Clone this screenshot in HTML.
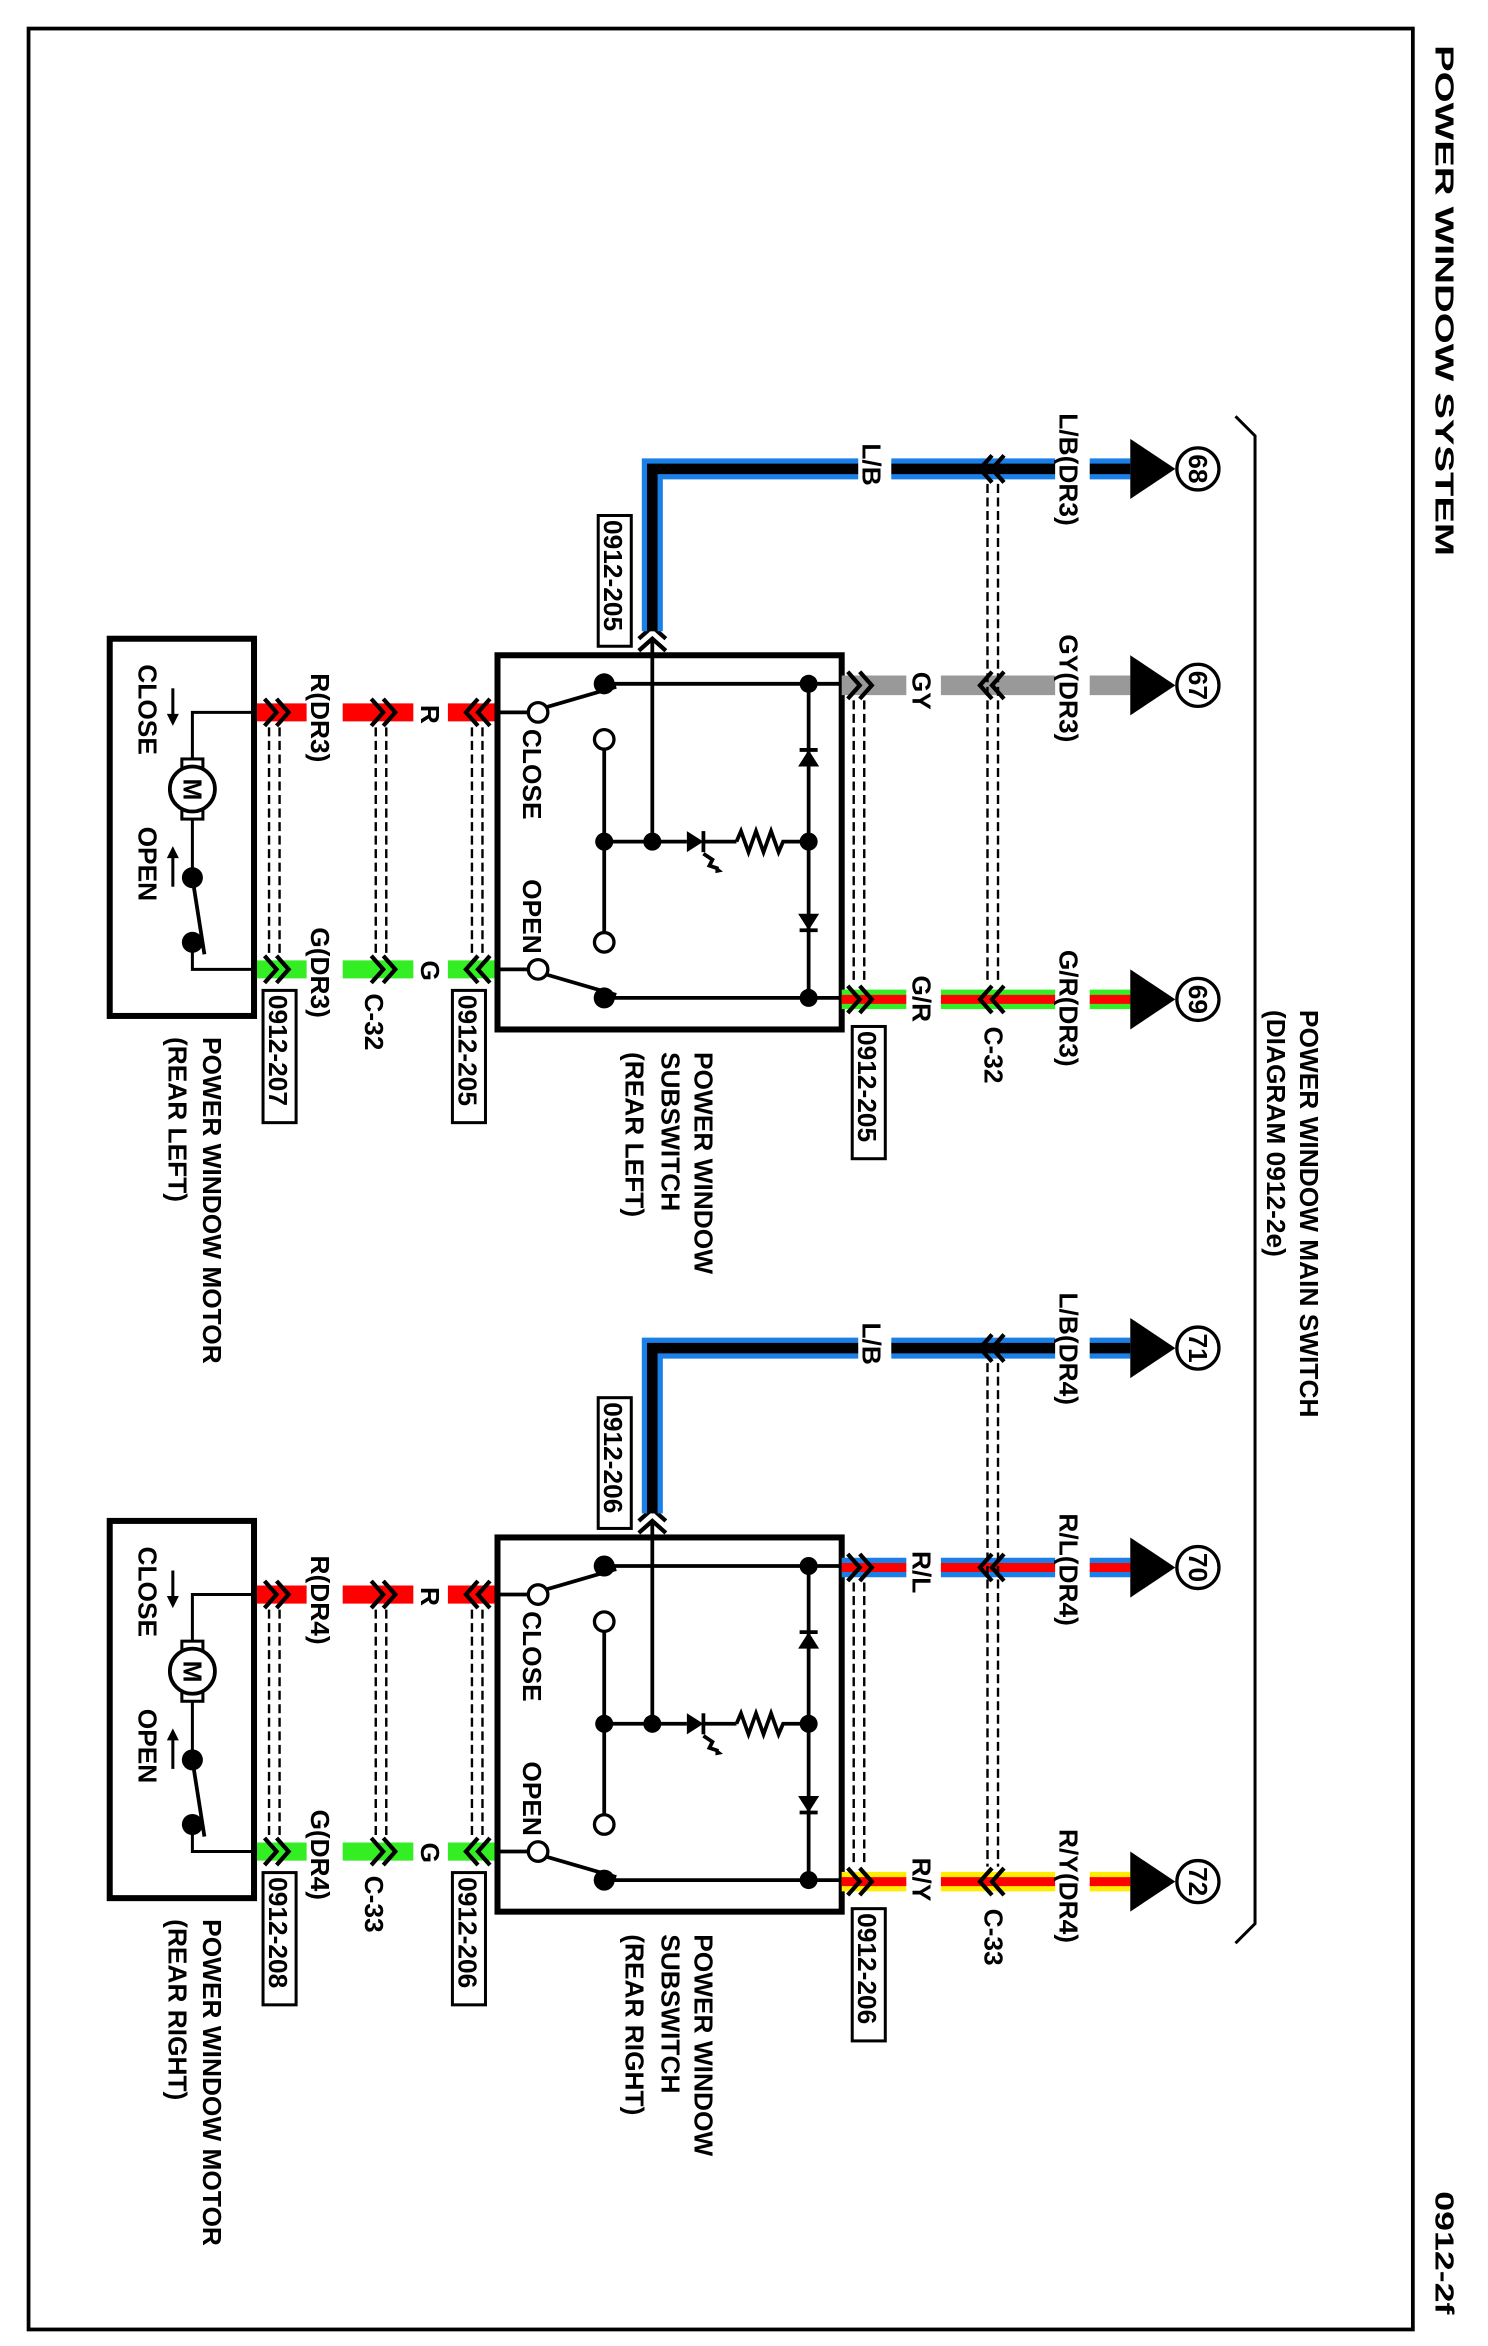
<!DOCTYPE html>
<html><head><meta charset="utf-8"><style>
html,body{margin:0;padding:0;background:#fff}
svg{display:block}
text{font-family:"Liberation Sans",Arial,sans-serif;font-size:17.5px;font-weight:bold;fill:#000}
</style></head><body>
<svg xmlns="http://www.w3.org/2000/svg" xmlns:xlink="http://www.w3.org/1999/xlink" width="1488" height="2346" viewBox="0 0 990 1561" preserveAspectRatio="none">
<rect x="0" y="0" width="990" height="1561" fill="#fff"/>
<rect x="19" y="19" width="921" height="1531" fill="none" stroke="#000" stroke-width="2.5"/>
<text font-size="28" font-weight="normal" textLength="340" lengthAdjust="spacingAndGlyphs" transform="translate(955,30) rotate(90)">POWER WINDOW SYSTEM</text>
<text font-size="28" font-weight="normal" textLength="82" lengthAdjust="spacingAndGlyphs" transform="translate(955,1458) rotate(90)">0912-2f</text>

<polyline points="822,277 835,290 835,1280 822,1293" fill="none" stroke="#000" stroke-width="2"/>
<text transform="translate(865,672) rotate(90)">POWER WINDOW MAIN SWITCH</text>
<text transform="translate(843,672) rotate(90)">(DIAGRAM 0912-2e)</text>

<defs>
<g id="chevR" fill="none" stroke="#000" stroke-width="2.8"><polyline points="-8,-9 0,0 -8,9"/><polyline points="0,-9 8,0 0,9"/></g>
<g id="chevL" fill="none" stroke="#000" stroke-width="2.8"><polyline points="8,-9 0,0 8,9"/><polyline points="0,-9 -8,0 0,9"/></g>
<g id="blk">
 <line x1="171" y1="474" x2="330" y2="474" stroke="#ff0000" stroke-width="12"/>
 <line x1="171" y1="645" x2="330" y2="645" stroke="#33ee22" stroke-width="12"/>
 <rect x="204" y="460" width="24" height="28" fill="#fff"/>
 <rect x="275" y="460" width="23" height="28" fill="#fff"/>
 <rect x="204" y="631" width="24" height="28" fill="#fff"/>
 <rect x="275" y="631" width="23" height="28" fill="#fff"/>
 <g stroke="#000" stroke-width="1.6" stroke-dasharray="6,3">
  <line x1="179" y1="484" x2="179" y2="636"/><line x1="186" y1="484" x2="186" y2="636"/>
  <line x1="250" y1="484" x2="250" y2="636"/><line x1="257" y1="484" x2="257" y2="636"/>
  <line x1="314" y1="484" x2="314" y2="636"/><line x1="321" y1="484" x2="321" y2="636"/>
 </g>
 <use xlink:href="#chevR" x="184" y="474"/><use xlink:href="#chevR" x="255" y="474"/><use xlink:href="#chevL" x="318" y="474"/>
 <use xlink:href="#chevR" x="184" y="645"/><use xlink:href="#chevR" x="255" y="645"/><use xlink:href="#chevL" x="318" y="645"/>
 <text transform="translate(280,469) rotate(90)">R</text>
 <text transform="translate(280,639) rotate(90)">G</text>
 <rect x="331" y="436" width="229" height="249" fill="none" stroke="#000" stroke-width="4"/>
 <g stroke="#000" stroke-width="2.5" fill="none">
  <line x1="331" y1="474" x2="352" y2="474"/>
  <line x1="331" y1="645" x2="352" y2="645"/>
  <line x1="362" y1="471" x2="410" y2="457"/>
  <line x1="362" y1="648" x2="410" y2="662"/>
  <line x1="402" y1="455" x2="560" y2="455"/>
  <line x1="402" y1="664" x2="560" y2="664"/>
  <line x1="402" y1="498" x2="402" y2="621"/>
  <line x1="402" y1="560" x2="457" y2="560"/>
  <line x1="468" y1="560" x2="490" y2="560"/>
  <polyline points="490,560 493,553 498,567 503,553 508,567 513,553 518,567 521,560 538,560"/>
  <line x1="434" y1="425" x2="434" y2="560"/>
  <line x1="538" y1="455" x2="538" y2="664"/>
  <line x1="468" y1="553" x2="468" y2="567"/>
  <line x1="532" y1="499" x2="544" y2="499"/>
  <line x1="532" y1="619" x2="544" y2="619"/>
  <polyline points="468,568 474,572 472,576 478,578"/>
 </g>
 <polygon points="457,553 457,567 468,560" fill="#000"/>
 <polygon points="476,576 481,580 476,581" fill="#000"/>
 <polygon points="531,510 545,510 538,499" fill="#000"/>
 <polygon points="531,608 545,608 538,619" fill="#000"/>
 <g fill="#000"><circle cx="402" cy="455" r="7"/><circle cx="402" cy="664" r="7"/><circle cx="402" cy="560" r="6"/><circle cx="434" cy="560" r="6"/><circle cx="538" cy="560" r="6"/><circle cx="538" cy="455" r="6"/><circle cx="538" cy="664" r="6"/></g>
 <g fill="#fff" stroke="#000" stroke-width="2.2"><circle cx="358" cy="474" r="6.5"/><circle cx="358" cy="645" r="6.5"/><circle cx="402" cy="492" r="6.5"/><circle cx="402" cy="627" r="6.5"/></g>
 <text transform="translate(348,485) rotate(90)">CLOSE</text>
 <text transform="translate(348,585) rotate(90)">OPEN</text>
 <rect x="73" y="425" width="96" height="251" fill="none" stroke="#000" stroke-width="4"/>
 <g stroke="#000" stroke-width="2" fill="none">
  <polyline points="169,474 128,474 128,505"/>
  <polyline points="128,545 128,584"/>
  <polyline points="128,627 128,645 169,645"/>
  <line x1="128" y1="584" x2="136" y2="635" stroke-width="2.5"/>
  <rect x="121" y="505" width="14" height="6" fill="#fff"/>
  <rect x="121" y="539" width="14" height="6" fill="#fff"/>
  <circle cx="128" cy="525" r="15" fill="#fff" stroke-width="2.5"/>
  <line x1="115" y1="458" x2="115" y2="476"/>
  <line x1="115" y1="570" x2="115" y2="590"/>
 </g>
 <polygon points="111,475 119,475 115,483" fill="#000"/>
 <polygon points="111,571 119,571 115,563" fill="#000"/>
 <circle cx="128" cy="584" r="7" fill="#000"/><circle cx="128" cy="627" r="7" fill="#000"/>
 <text font-size="19" transform="translate(122,518) rotate(90)">M</text>
 <text transform="translate(92,442) rotate(90)">CLOSE</text>
 <text transform="translate(92,550) rotate(90)">OPEN</text>
 <use xlink:href="#chevL" transform="translate(434,425) rotate(90)"/>
</g>
</defs>

<use xlink:href="#blk"/>
<use xlink:href="#blk" y="587"/>

<polyline points="752,312 434,312 434,420" fill="none" stroke="#1a7fe6" stroke-width="14"/>
<polyline points="752,312 434,312 434,420" fill="none" stroke="#000" stroke-width="7"/>
<line x1="560" y1="456" x2="752" y2="456" stroke="#999" stroke-width="13"/>
<line x1="560" y1="665" x2="752" y2="665" stroke="#33ee22" stroke-width="13"/>
<line x1="560" y1="665" x2="752" y2="665" stroke="#ff0000" stroke-width="6"/>
<g fill="#fff">
 <rect x="702" y="298" width="23" height="28"/><rect x="571" y="298" width="22" height="28"/>
 <rect x="702" y="442" width="23" height="28"/><rect x="603" y="442" width="23" height="28"/>
 <rect x="702" y="651" width="23" height="28"/><rect x="603" y="651" width="23" height="28"/>
</g>
<g stroke="#000" stroke-width="1.6" stroke-dasharray="6,3">
 <line x1="657" y1="322" x2="657" y2="655"/><line x1="664" y1="322" x2="664" y2="655"/>
 <line x1="568" y1="466" x2="568" y2="655"/><line x1="575" y1="466" x2="575" y2="655"/>
</g>
<use xlink:href="#chevL" x="660" y="312"/><use xlink:href="#chevL" x="660" y="456"/><use xlink:href="#chevL" x="660" y="665"/>
<use xlink:href="#chevR" x="572" y="456"/><use xlink:href="#chevR" x="572" y="665"/>
<g fill="#000"><polygon points="752,292 752,332 782,312"/><polygon points="752,436 752,476 782,456"/><polygon points="752,645 752,685 782,665"/></g>
<g fill="#fff" stroke="#000" stroke-width="2.2"><circle cx="797" cy="312" r="14"/><circle cx="797" cy="456" r="14"/><circle cx="797" cy="665" r="14"/></g>
<g text-anchor="middle" font-size="17">
 <text transform="translate(791,312) rotate(90)">68</text>
 <text transform="translate(791,456) rotate(90)">67</text>
 <text transform="translate(791,665) rotate(90)">69</text>
</g>
<text transform="translate(705,275) rotate(90)">L/B(DR3)</text>
<text transform="translate(705,422) rotate(90)">GY(DR3)</text>
<text transform="translate(705,632) rotate(90)">G/R(DR3)</text>
<text transform="translate(574,295) rotate(90)">L/B</text>
<text transform="translate(607,447) rotate(90)">GY</text>
<text transform="translate(607,649) rotate(90)">G/R</text>
<text transform="translate(655,683) rotate(90)">C-32</text>
<rect x="398" y="343" width="22" height="87" fill="#fff" stroke="#000" stroke-width="2"/>
<text transform="translate(402,346) rotate(90)">0912-205</text>
<rect x="567" y="683" width="22" height="88" fill="#fff" stroke="#000" stroke-width="2"/>
<text transform="translate(571,686) rotate(90)">0912-205</text>
<text transform="translate(207,448) rotate(90)">R(DR3)</text>
<text transform="translate(207,617) rotate(90)">G(DR3)</text>
<text transform="translate(243,661) rotate(90)">C-32</text>
<rect x="301" y="659" width="22" height="88" fill="#fff" stroke="#000" stroke-width="2"/>
<text transform="translate(305,662) rotate(90)">0912-205</text>
<rect x="175" y="659" width="22" height="88" fill="#fff" stroke="#000" stroke-width="2"/>
<text transform="translate(179,662) rotate(90)">0912-207</text>
<text transform="translate(462,700) rotate(90)">POWER WINDOW</text>
<text transform="translate(440,700) rotate(90)">SUBSWITCH</text>
<text transform="translate(416,700) rotate(90)">(REAR LEFT)</text>
<text transform="translate(135,690) rotate(90)">POWER WINDOW MOTOR</text>
<text transform="translate(112,690) rotate(90)">(REAR LEFT)</text>

<polyline points="752,897 434,897 434,1007" fill="none" stroke="#1a7fe6" stroke-width="14"/>
<polyline points="752,897 434,897 434,1007" fill="none" stroke="#000" stroke-width="7"/>
<line x1="560" y1="1043" x2="752" y2="1043" stroke="#1a7fe6" stroke-width="13"/>
<line x1="560" y1="1043" x2="752" y2="1043" stroke="#ff0000" stroke-width="6"/>
<line x1="560" y1="1252" x2="752" y2="1252" stroke="#ffee00" stroke-width="13"/>
<line x1="560" y1="1252" x2="752" y2="1252" stroke="#ff0000" stroke-width="6"/>
<g fill="#fff">
 <rect x="702" y="883" width="23" height="28"/><rect x="571" y="883" width="22" height="28"/>
 <rect x="702" y="1029" width="23" height="28"/><rect x="603" y="1029" width="23" height="28"/>
 <rect x="702" y="1238" width="23" height="28"/><rect x="603" y="1238" width="23" height="28"/>
</g>
<g stroke="#000" stroke-width="1.6" stroke-dasharray="6,3">
 <line x1="657" y1="907" x2="657" y2="1242"/><line x1="664" y1="907" x2="664" y2="1242"/>
 <line x1="568" y1="1053" x2="568" y2="1242"/><line x1="575" y1="1053" x2="575" y2="1242"/>
</g>
<use xlink:href="#chevL" x="660" y="897"/><use xlink:href="#chevL" x="660" y="1043"/><use xlink:href="#chevL" x="660" y="1252"/>
<use xlink:href="#chevR" x="572" y="1043"/><use xlink:href="#chevR" x="572" y="1252"/>
<g fill="#000"><polygon points="752,877 752,917 782,897"/><polygon points="752,1023 752,1063 782,1043"/><polygon points="752,1232 752,1272 782,1252"/></g>
<g fill="#fff" stroke="#000" stroke-width="2.2"><circle cx="797" cy="897" r="14"/><circle cx="797" cy="1043" r="14"/><circle cx="797" cy="1252" r="14"/></g>
<g text-anchor="middle" font-size="17">
 <text transform="translate(791,897) rotate(90)">71</text>
 <text transform="translate(791,1043) rotate(90)">70</text>
 <text transform="translate(791,1252) rotate(90)">72</text>
</g>
<text transform="translate(705,860) rotate(90)">L/B(DR4)</text>
<text transform="translate(705,1007) rotate(90)">R/L(DR4)</text>
<text transform="translate(705,1217) rotate(90)">R/Y(DR4)</text>
<text transform="translate(574,880) rotate(90)">L/B</text>
<text transform="translate(607,1032) rotate(90)">R/L</text>
<text transform="translate(607,1236) rotate(90)">R/Y</text>
<text transform="translate(655,1270) rotate(90)">C-33</text>
<rect x="398" y="930" width="22" height="87" fill="#fff" stroke="#000" stroke-width="2"/>
<text transform="translate(402,933) rotate(90)">0912-206</text>
<rect x="567" y="1270" width="22" height="88" fill="#fff" stroke="#000" stroke-width="2"/>
<text transform="translate(571,1273) rotate(90)">0912-206</text>
<text transform="translate(207,1035) rotate(90)">R(DR4)</text>
<text transform="translate(207,1204) rotate(90)">G(DR4)</text>
<text transform="translate(243,1248) rotate(90)">C-33</text>
<rect x="301" y="1246" width="22" height="88" fill="#fff" stroke="#000" stroke-width="2"/>
<text transform="translate(305,1249) rotate(90)">0912-206</text>
<rect x="175" y="1246" width="22" height="88" fill="#fff" stroke="#000" stroke-width="2"/>
<text transform="translate(179,1249) rotate(90)">0912-208</text>
<text transform="translate(462,1287) rotate(90)">POWER WINDOW</text>
<text transform="translate(440,1287) rotate(90)">SUBSWITCH</text>
<text transform="translate(416,1287) rotate(90)">(REAR RIGHT)</text>
<text transform="translate(135,1277) rotate(90)">POWER WINDOW MOTOR</text>
<text transform="translate(112,1277) rotate(90)">(REAR RIGHT)</text>
</svg>
</body></html>
